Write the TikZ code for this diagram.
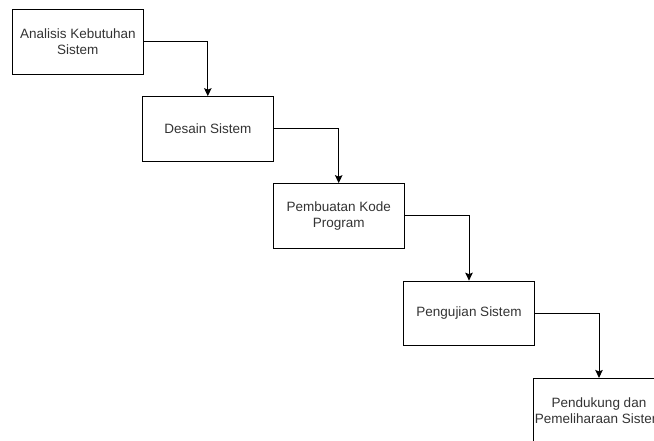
\documentclass[tikz,border=0pt]{standalone}
\usepackage{fontspec}
\setmainfont{Liberation Sans}
\usetikzlibrary{arrows.meta}
\begin{document}
\begin{tikzpicture}[x=1pt,y=-1pt,
  stepbox/.style={draw=black, line width=1pt, minimum width=130.7pt, minimum height=64.7pt,
    inner sep=0pt, align=center, font=\fontsize{13.5}{16}\selectfont, text=black!80},
  conn/.style={draw=black, line width=1pt, -{Stealth[length=8pt,width=7.5pt,inset=1.5pt]}}]
\useasboundingbox (0,0) rectangle (654,441);
\clip (0,0) rectangle (654,441);
\node[stepbox] (a) at (77.8,41.8) {Analisis Kebutuhan\\Sistem};
\node[stepbox] (b) at (207.8,129) {Desain Sistem};
\node[stepbox] (c) at (338.7,216) {Pembuatan Kode\\Program};
\node[stepbox] (d) at (469,313.5) {Pengujian Sistem};
\node[stepbox] (e) at (599,410.8) {Pendukung dan\\Pemeliharaan Sistem};
\draw[conn] (a.east) -| (b.north);
\draw[conn] (b.east) -| (c.north);
\draw[conn] (c.east) -| (d.north);
\draw[conn] (d.east) -| (e.north);
\end{tikzpicture}
\end{document}
